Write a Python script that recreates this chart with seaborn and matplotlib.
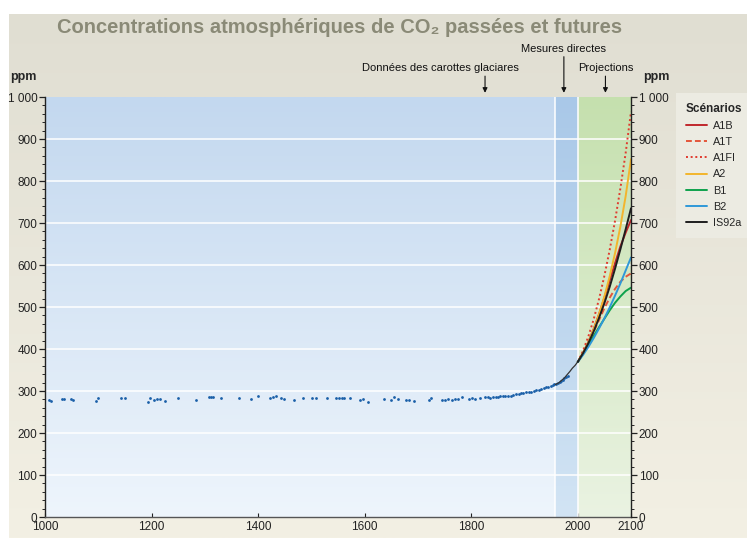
import numpy as np
import pandas as pd
import matplotlib
matplotlib.use('Agg')
import matplotlib.pyplot as plt
import seaborn as sns
from matplotlib.lines import Line2D

# --- données : carottes glaciaires (Law Dome)
ice_years = [1008, 1012, 1031, 1036, 1049, 1053, 1095, 1100, 1143, 1150, 1193, 1198,
             1204, 1210, 1216, 1226, 1249, 1283, 1307, 1311, 1316, 1330, 1364, 1387,
             1400, 1423, 1428, 1433, 1443, 1449, 1467, 1484, 1501, 1509, 1529, 1546,
             1551, 1557, 1562, 1572, 1591, 1597, 1606, 1636, 1650, 1656, 1662, 1678,
             1683, 1692, 1720, 1724, 1745, 1751, 1757, 1764, 1770, 1776, 1782, 1795,
             1801, 1807, 1816, 1826, 1832, 1836, 1841, 1847, 1851, 1854, 1860, 1864,
             1869, 1874, 1879, 1885, 1890, 1894, 1898, 1903, 1908, 1913, 1917, 1922,
             1927, 1931, 1936, 1941, 1945, 1950, 1953, 1956, 1959, 1963, 1966, 1969,
             1972, 1975, 1978, 1981]
ice_ppm = [279.2, 276.1, 281.6, 280.0, 281.6, 277.6, 276.1, 282.4, 282.4, 284.0, 272.9, 284.0,
           278.4, 280.0, 281.6, 276.1, 282.4, 279.2, 285.6, 286.4, 286.4, 284.0, 284.0, 280.8,
           287.2, 284.0, 284.8, 287.2, 282.4, 281.6, 279.2, 282.4, 282.4, 282.4, 284.0, 283.2,
           284.0, 282.4, 284.0, 282.4, 279.2, 280.8, 274.5, 280.8, 277.6, 285.6, 280.8, 279.2,
           277.6, 276.8, 279.2, 283.2, 279.2, 279.2, 280.8, 277.6, 280.8, 281.6, 284.8, 281.6,
           283.2, 280.8, 283.2, 284.8, 284.8, 284.0, 285.6, 284.8, 286.0, 287.2, 288.8, 287.0,
           288.8, 289.0, 290.4, 292.8, 293.0, 295.2, 295.0, 296.8, 297.0, 298.4, 300.0, 301.6,
           303.0, 304.8, 306.0, 308.8, 310.0, 312.8, 314.0, 316.8, 317.0, 319.2, 322.0, 324.8,
           327.0, 330.4, 333.0, 336.8]

# --- mesures directes (Mauna Loa)
direct_years = [1958, 1965, 1970, 1975, 1980, 1985, 1990, 1995, 2000]
direct_ppm = [315.3, 320.0, 325.7, 331.1, 338.7, 346.1, 354.4, 360.9, 369.5]

# --- projections (scénarios SRES + IS92a)
proj_years = [2000, 2010, 2020, 2030, 2040, 2050, 2060, 2070, 2080, 2090, 2100]
a1b = [369, 391, 417, 448, 483, 522, 563, 604, 644, 677, 707]
a1t = [369, 390, 414, 441, 469, 497, 522, 543, 560, 572, 580]
a1fi = [369, 396, 430, 471, 519, 574, 636, 705, 782, 867, 965]
a2 = [369, 390, 416, 447, 483, 525, 573, 628, 691, 764, 852]
b1 = [369, 388, 409, 431, 452, 472, 492, 510, 525, 538, 546]
b2 = [369, 386, 405, 426, 449, 473, 499, 527, 556, 587, 618]
is92a = [369, 390, 414, 442, 474, 509, 548, 591, 637, 685, 735]

scenarios = ['A1B', 'A1T', 'A1FI', 'A2', 'B1', 'B2', 'IS92a']
series = [a1b, a1t, a1fi, a2, b1, b2, is92a]
colors = {'A1B': '#c0272d', 'A1T': '#e4553a', 'A1FI': '#e03a2e', 'A2': '#f3b52c',
          'B1': '#0ea24c', 'B2': '#2f98d8', 'IS92a': '#1e1e1e'}
dashes = {'A1B': '', 'A1T': (3, 1.6), 'A1FI': (1, 1.4), 'A2': '', 'B1': '', 'B2': '', 'IS92a': ''}

yticks = [0, 100, 200, 300, 400, 500, 600, 700, 800, 900, 1000]
ylabels = ['0', '100', '200', '300', '400', '500', '600', '700', '800', '900', '1 000']
xticks = [1000, 1200, 1400, 1600, 1800, 2000, 2100]

df_proj = pd.DataFrame({
    'annee': proj_years * len(scenarios),
    'ppm': sum(series, []),
    'scenario': [s for s in scenarios for _ in proj_years],
})
df_ice = pd.DataFrame({'annee': ice_years, 'ppm': ice_ppm})
df_direct = pd.DataFrame({'annee': direct_years, 'ppm': direct_ppm})

sns.set_theme(style='white')
plt.rcParams['font.family'] = ['Liberation Sans', 'DejaVu Sans']

W, H = 747, 538
fig = plt.figure(figsize=(W / 100, H / 100), dpi=100)
fig.patch.set_facecolor('white')

# fond beige dégradé
bg = fig.add_axes([9 / W, 0, 1 - 9 / W, 1 - 14 / H], zorder=-5)
grad = np.linspace(0, 1, 256).reshape(-1, 1)
bg.imshow(grad, aspect='auto', extent=[0, 1, 0, 1], origin='upper',
          cmap=matplotlib.colors.LinearSegmentedColormap.from_list('b', ['#e0ded2', '#f3f0e4']))
bg.set_axis_off()

left, right, top, bottom = 45, 631, 97, 517
ax = fig.add_axes([left / W, 1 - bottom / H, (right - left) / W, (bottom - top) / H])
ax.patch.set_visible(False)

def band(x0, x1, c_top, c_bot):
    cm = matplotlib.colors.LinearSegmentedColormap.from_list('g', [c_top, c_bot])
    ax.imshow(grad, aspect='auto', extent=[x0, x1, 0, 1000], origin='upper', cmap=cm, zorder=0)

band(1000, 1958, '#c3d8ef', '#eef5fc')
band(1958, 2000, '#a9c8e8', '#d2e4f4')
band(2000, 2100, '#c5e0ae', '#eaf3e2')

for y in yticks[1:-1]:
    ax.axhline(y, color='white', lw=1.1, zorder=1)
for x in [1958, 2000]:
    ax.axvline(x, color='white', lw=1.1, zorder=1)

sns.scatterplot(data=df_ice, x='annee', y='ppm', ax=ax, color='#1a5fa8', marker='o',
                s=4, linewidth=0, zorder=3)
sns.lineplot(data=df_direct, x='annee', y='ppm', ax=ax, color='#333333', lw=0.9, zorder=3)
sns.lineplot(data=df_proj, x='annee', y='ppm', hue='scenario', style='scenario',
             palette=colors, dashes=dashes, ax=ax, lw=1.4, legend=False, zorder=4)

ax.set_xlim(1000, 2100)
ax.set_ylim(0, 1000)
ax.set_xlabel('')
ax.set_ylabel('')
ax.set_xticks(xticks)
ax.set_xticklabels([str(x) for x in xticks])
ax.set_yticks(yticks)
ax.set_yticklabels(ylabels)
ax.set_yticks(range(0, 1001, 20), minor=True)
ax.tick_params(axis='y', which='major', direction='out', length=4, width=0.9, labelsize=8.5,
               colors='#222222', pad=1.5, left=True)
ax.tick_params(axis='y', which='minor', direction='out', length=2.5, width=0.7, left=True)
ax.tick_params(axis='x', direction='in', length=3, width=0.8, labelsize=8.5, colors='#222222',
               pad=3, bottom=True)
ax.spines['top'].set_visible(False)
ax.spines['right'].set_visible(False)
ax.spines['left'].set_color('#222222')
ax.spines['left'].set_linewidth(1)
ax.spines['bottom'].set_color('#555555')
ax.spines['bottom'].set_linewidth(1)

ax2 = ax.twinx()
ax2.set_ylim(0, 1000)
ax2.set_yticks(yticks)
ax2.set_yticklabels(ylabels)
ax2.set_yticks(range(0, 1001, 20), minor=True)
ax2.tick_params(axis='y', which='major', direction='out', length=4, width=0.9, labelsize=8.5,
                colors='#222222', pad=1.5, right=True)
ax2.tick_params(axis='y', which='minor', direction='out', length=2.5, width=0.7, right=True)
for s in ['top', 'left', 'bottom']:
    ax2.spines[s].set_visible(False)
ax2.spines['right'].set_color('#222222')
ax2.spines['right'].set_linewidth(1)
ax2.grid(False)
ax.grid(False)

# titre
fig.text(340 / W, 1 - 28 / H, 'Concentrations atmosphériques de CO₂ passées et futures',
         ha='center', va='center', fontsize=14.5, fontweight='bold', color='#8a8a77')
fig.text(10 / W, 1 - 77 / H, 'ppm', ha='left', va='center', fontsize=9, fontweight='bold')
fig.text(643 / W, 1 - 77 / H, 'ppm', ha='left', va='center', fontsize=9, fontweight='bold')

# annotations (texte décalé par rapport à la flèche pour "Données...")
arrow = dict(arrowstyle='-|>', color='#111111', lw=0.8, mutation_scale=7, shrinkA=1, shrinkB=0)
for label, xv, dx, off in [('Données des carottes glaciares', 1826, -32, 13),
                           ('Mesures directes', 1974, 0, 27),
                           ('Projections', 2052, 0, 13)]:
    ax.annotate('', xy=(xv, 1.01), xycoords=('data', 'axes fraction'),
                xytext=(0, off), textcoords='offset points',
                arrowprops=arrow, annotation_clip=False)
    ax.annotate(label, xy=(xv, 1.01), xycoords=('data', 'axes fraction'),
                xytext=(dx, off + 1), textcoords='offset points', ha='center', va='bottom',
                fontsize=8, color='#111111', annotation_clip=False)

# légende
handles = [Line2D([], [], color=colors[s], lw=1.4,
                  linestyle='-' if dashes[s] == '' else (0, dashes[s])) for s in scenarios]
leg = fig.legend(handles, scenarios, title='Scénarios', loc='upper left',
                 bbox_to_anchor=(676 / W, 1 - 93 / H), borderaxespad=0, frameon=True,
                 fancybox=False, facecolor='#ecebe2', edgecolor='none', framealpha=1,
                 fontsize=7.8, title_fontsize=8.5, handlelength=2.0, handletextpad=0.55,
                 labelspacing=0.57, borderpad=0.9, alignment='left')
leg.get_title().set_fontweight('bold')

fig.savefig('out.png', dpi=100)
